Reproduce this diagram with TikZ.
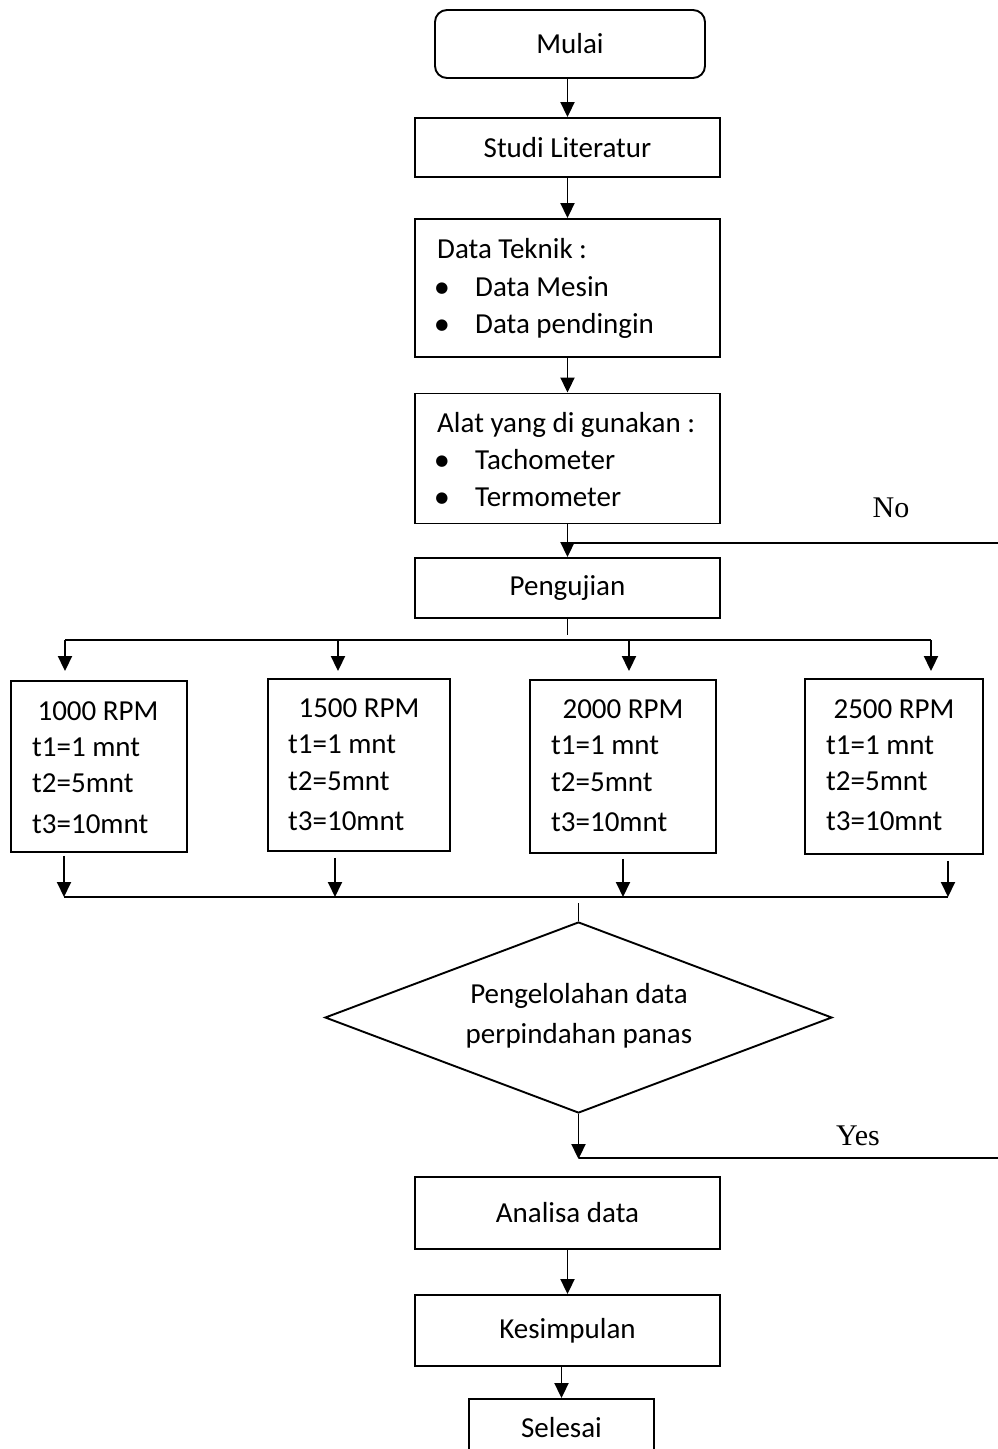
\documentclass[tikz,border=0pt]{standalone}
\usepackage{fontspec}
\setmainfont{Carlito}
\newfontfamily\tnr{Liberation Serif}
\newfontfamily\djv{DejaVu Sans}
\usetikzlibrary{arrows.meta,shapes.geometric}
\begin{document}
\begin{tikzpicture}[x=1pt,y=-1pt,
  every node/.style={font=\fontsize{29}{34}\selectfont},
  box/.style={draw, line width=1.9pt, inner sep=0pt, minimum width=305pt},
  term/.style={draw, line width=1.9pt, inner sep=0pt, rounded corners=12pt, minimum width=270pt, minimum height=68pt},
  rpmbox/.style={draw, line width=1.9pt, inner sep=0pt},
  decision/.style={diamond, draw, line width=1.9pt, inner sep=0pt, minimum width=507pt, minimum height=191pt},
  lbl/.style={inner sep=0pt, anchor=base west},
  clbl/.style={inner sep=0pt, anchor=base},
  bul/.style={inner sep=0pt, anchor=center, font=\djv\fontsize{15}{18}\selectfont},
  yn/.style={inner sep=0pt, anchor=base, font=\tnr\fontsize{30}{36}\selectfont},
  arr/.style={line width=1.9pt, -{Triangle[width=14pt,length=15pt]}},
  ln/.style={line width=1.9pt}
]
\useasboundingbox (0,0) rectangle (998,1449);
\clip (0,0) rectangle (998,1449);

% main column
\node[term] (mulai) at (570,44) {Mulai};
\node[box, minimum height=59pt] (studi) at (567.5,147.5) {Studi Literatur};

\node[box, minimum height=138pt] (datatek) at (567.5,288) {};
\node[lbl] (dtT) at (437,258) {Data Teknik :};
\node[bul] (dtB1) at (442,289) {●};
\node[lbl] (dtI1) at (475,296) {Data Mesin};
\node[bul] (dtB2) at (442,326) {●};
\node[lbl] (dtI2) at (475,333) {Data pendingin};

\node[box, minimum height=130pt] (alat) at (567.5,458.5) {};
\node[lbl] (alT) at (437,432) {Alat yang di gunakan :};
\node[bul] (alB1) at (442,462) {●};
\node[lbl] (alI1) at (475,469) {Tachometer};
\node[bul] (alB2) at (442,499) {●};
\node[lbl] (alI2) at (475,506) {Termometer};

\node[box, minimum height=60pt] (penguj) at (567.5,588) {Pengujian};

% RPM boxes
\node[rpmbox, minimum width=176pt, minimum height=171pt] (b1) at (99,766.5) {};
\node[clbl] (b1h) at (98,720) {1000 RPM};
\node[lbl] (b1a) at (32,756) {t1=1 mnt};
\node[lbl] (b1b) at (32,792) {t2=5mnt};
\node[lbl] (b1c) at (32,833) {t3=10mnt};

\node[rpmbox, minimum width=182pt, minimum height=172pt] (b2) at (359,765) {};
\node[clbl] (b2h) at (359,717) {1500 RPM};
\node[lbl] (b2a) at (288,753) {t1=1 mnt};
\node[lbl] (b2b) at (288,790) {t2=5mnt};
\node[lbl] (b2c) at (288,830) {t3=10mnt};

\node[rpmbox, minimum width=186pt, minimum height=173pt] (b3) at (623,766.5) {};
\node[clbl] (b3h) at (623,718) {2000 RPM};
\node[lbl] (b3a) at (551,754) {t1=1 mnt};
\node[lbl] (b3b) at (551,791) {t2=5mnt};
\node[lbl] (b3c) at (551,831) {t3=10mnt};

\node[rpmbox, minimum width=178pt, minimum height=175pt] (b4) at (894,766.5) {};
\node[clbl] (b4h) at (894,718) {2500 RPM};
\node[lbl] (b4a) at (826,754) {t1=1 mnt};
\node[lbl] (b4b) at (826,790) {t2=5mnt};
\node[lbl] (b4c) at (826,830) {t3=10mnt};

% decision
\node[decision] (dia) at (578.5,1017.5) {};
\node[clbl] (diaA) at (579,1003) {Pengelolahan data};
\node[clbl] (diaB) at (579,1043) {perpindahan panas};

\node[box, minimum height=72pt] (analisa) at (567.5,1213) {Analisa data};
\node[box, minimum height=71pt] (kesimp) at (567.5,1330.5) {Kesimpulan};
\node[draw, line width=1.9pt, inner sep=0pt, minimum width=185pt, minimum height=91pt] (selesai) at (561.5,1444.5) {};
\node[clbl] (selT) at (561.5,1437) {Selesai};

% labels
\node[yn] (no) at (891,517) {No};
\node[yn] (yes) at (858,1145) {Yes};

% coordinates
\coordinate (noEnd) at (998,543);
\coordinate (yesEnd) at (998,1158);
\coordinate (tick1) at (566,635);
\coordinate (t1) at (65,640);
\coordinate (t2) at (338,640);
\coordinate (t3) at (629,640);
\coordinate (t4) at (931,640);
\coordinate (u1) at (64,897);
\coordinate (u2) at (335,897);
\coordinate (u3) at (623,897);
\coordinate (u4) at (948,897);
\coordinate (tick2) at (577,903);

% connectors
\draw[arr] (studi.north |- mulai.south) -- (studi.north);
\draw[arr] (studi.south) -- (datatek.north);
\draw[arr] (datatek.south) -- (alat.north);
\draw[arr] (alat.south) -- (penguj.north);
\draw[ln] (noEnd) -- (penguj.north |- noEnd);
\draw[ln] (penguj.south) -- (penguj.south |- tick1);
\draw[ln] (t1) -- (t4);
\draw[arr, shorten >=9pt] (t1) -- (t1 |- b1.north);
\draw[arr, shorten >=7pt] (t2) -- (t2 |- b2.north);
\draw[arr, shorten >=8pt] (t3) -- (t3 |- b3.north);
\draw[arr, shorten >=7pt] (t4) -- (t4 |- b4.north);
\draw[arr, shorten <=3pt] (u1 |- b1.south) -- (u1);
\draw[arr, shorten <=6pt] (u2 |- b2.south) -- (u2);
\draw[arr, shorten <=5pt] (u3 |- b3.south) -- (u3);
\draw[arr, shorten <=6pt] (u4 |- b4.south) -- (u4);
\draw[ln] (u1) -- (u4);
\draw[ln] (dia.north |- tick2) -- (dia.north);
\draw[arr, shorten >=17pt] (dia.south) -- (dia.south |- analisa.north);
\draw[ln] (yesEnd) -- (dia.south |- yesEnd);
\draw[arr] (analisa.south) -- (kesimp.north);
\draw[arr] (kesimp.south -| selesai.north) -- (selesai.north);
\end{tikzpicture}
\end{document}
